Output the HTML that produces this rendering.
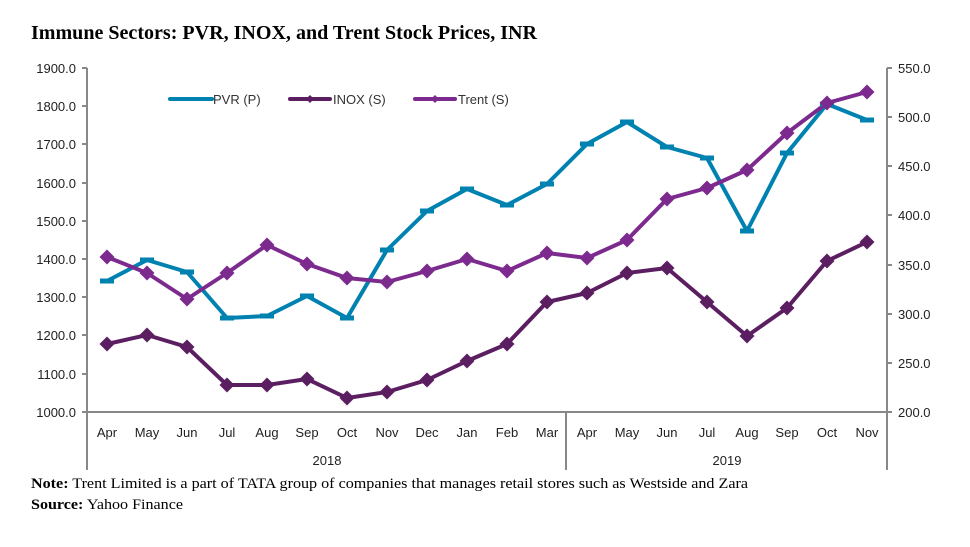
<!DOCTYPE html>
<html><head><meta charset="utf-8"><style>
html,body{margin:0;padding:0;background:#fff;}
svg{display:block;font-family:"Liberation Sans",Arial,sans-serif;}
.s{font-family:"Liberation Serif","Times New Roman",serif;}
</style></head><body>
<svg width="970" height="547" viewBox="0 0 970 547" xmlns="http://www.w3.org/2000/svg">
<defs>
<path id="dI" d="M0,-7.5 L7.5,0 L0,7.5 L-7.5,0Z" fill="#5b1f61"/>
<path id="dT" d="M0,-7.5 L7.5,0 L0,7.5 L-7.5,0Z" fill="#7d2a8e"/>
<rect id="dP" x="-7" y="-2.5" width="14" height="5" fill="#0082b1"/>
</defs>
<text x="31" y="39" class="s" font-size="20" font-weight="bold" fill="#000" textLength="506" lengthAdjust="spacingAndGlyphs">Immune Sectors: PVR, INOX, and Trent Stock Prices, INR</text>
<g stroke="#888" stroke-width="2" fill="none">
<line x1="87" y1="68" x2="87" y2="470"/>
<line x1="887" y1="68" x2="887" y2="470"/>
<line x1="566" y1="412" x2="566" y2="470"/>
<line x1="87" y1="412" x2="887" y2="412"/>
<path d="M82,68H87M82,106H87M82,144H87M82,183H87M82,221H87M82,259H87M82,297H87M82,335H87M82,374H87M82,412H87"/>
<path d="M887,68H892M887,117H892M887,166H892M887,215H892M887,265H892M887,314H892M887,363H892M887,412H892"/>
</g>
<g font-size="13" fill="#222" text-anchor="end">
<text x="76" y="73">1900.0</text><text x="76" y="111">1800.0</text><text x="76" y="149">1700.0</text><text x="76" y="188">1600.0</text><text x="76" y="226">1500.0</text><text x="76" y="264">1400.0</text><text x="76" y="302">1300.0</text><text x="76" y="340">1200.0</text><text x="76" y="379">1100.0</text><text x="76" y="417">1000.0</text>
</g>
<g font-size="13" fill="#222">
<text x="898" y="73">550.0</text><text x="898" y="122">500.0</text><text x="898" y="171">450.0</text><text x="898" y="220">400.0</text><text x="898" y="270">350.0</text><text x="898" y="319">300.0</text><text x="898" y="368">250.0</text><text x="898" y="417">200.0</text>
</g>
<g font-size="13" fill="#222" text-anchor="middle">
<text x="107" y="437">Apr</text><text x="147" y="437">May</text><text x="187" y="437">Jun</text><text x="227" y="437">Jul</text><text x="267" y="437">Aug</text><text x="307" y="437">Sep</text><text x="347" y="437">Oct</text><text x="387" y="437">Nov</text><text x="427" y="437">Dec</text><text x="467" y="437">Jan</text><text x="507" y="437">Feb</text><text x="547" y="437">Mar</text><text x="587" y="437">Apr</text><text x="627" y="437">May</text><text x="667" y="437">Jun</text><text x="707" y="437">Jul</text><text x="747" y="437">Aug</text><text x="787" y="437">Sep</text><text x="827" y="437">Oct</text><text x="867" y="437">Nov</text>
<text x="327" y="465">2018</text><text x="727" y="465">2019</text>
</g>
<polyline fill="none" stroke="#0082b1" stroke-width="4" stroke-linejoin="round" points="107,281 147,260 187,272 227,318 267,316 307,296 347,318 387,250 427,211 467,189 507,205 547,184 587,144 627,122 667,147 707,158 747,231 787,153 827,104 867,120"/>
<polyline fill="none" stroke="#5b1f61" stroke-width="4" stroke-linejoin="round" points="107,344 147,335 187,347 227,385 267,385 307,379 347,398 387,392 427,380 467,361 507,344 547,302 587,293 627,273 667,268 707,302 747,336 787,308 827,261 867,242"/>
<polyline fill="none" stroke="#7d2a8e" stroke-width="4" stroke-linejoin="round" points="107,257 147,273 187,299 227,273 267,245 307,264 347,278 387,282 427,271 467,259 507,271 547,253 587,258 627,240 667,199 707,188 747,170 787,133 827,103 867,92"/>
<g>
<use href="#dP" x="107" y="281"/><use href="#dP" x="147" y="260"/><use href="#dP" x="187" y="272"/><use href="#dP" x="227" y="318"/><use href="#dP" x="267" y="316"/><use href="#dP" x="307" y="296"/><use href="#dP" x="347" y="318"/><use href="#dP" x="387" y="250"/><use href="#dP" x="427" y="211"/><use href="#dP" x="467" y="189"/><use href="#dP" x="507" y="205"/><use href="#dP" x="547" y="184"/><use href="#dP" x="587" y="144"/><use href="#dP" x="627" y="122"/><use href="#dP" x="667" y="147"/><use href="#dP" x="707" y="158"/><use href="#dP" x="747" y="231"/><use href="#dP" x="787" y="153"/><use href="#dP" x="827" y="104"/><use href="#dP" x="867" y="120"/>
<use href="#dI" x="107" y="344"/><use href="#dI" x="147" y="335"/><use href="#dI" x="187" y="347"/><use href="#dI" x="227" y="385"/><use href="#dI" x="267" y="385"/><use href="#dI" x="307" y="379"/><use href="#dI" x="347" y="398"/><use href="#dI" x="387" y="392"/><use href="#dI" x="427" y="380"/><use href="#dI" x="467" y="361"/><use href="#dI" x="507" y="344"/><use href="#dI" x="547" y="302"/><use href="#dI" x="587" y="293"/><use href="#dI" x="627" y="273"/><use href="#dI" x="667" y="268"/><use href="#dI" x="707" y="302"/><use href="#dI" x="747" y="336"/><use href="#dI" x="787" y="308"/><use href="#dI" x="827" y="261"/><use href="#dI" x="867" y="242"/>
<use href="#dT" x="107" y="257"/><use href="#dT" x="147" y="273"/><use href="#dT" x="187" y="299"/><use href="#dT" x="227" y="273"/><use href="#dT" x="267" y="245"/><use href="#dT" x="307" y="264"/><use href="#dT" x="347" y="278"/><use href="#dT" x="387" y="282"/><use href="#dT" x="427" y="271"/><use href="#dT" x="467" y="259"/><use href="#dT" x="507" y="271"/><use href="#dT" x="547" y="253"/><use href="#dT" x="587" y="258"/><use href="#dT" x="627" y="240"/><use href="#dT" x="667" y="199"/><use href="#dT" x="707" y="188"/><use href="#dT" x="747" y="170"/><use href="#dT" x="787" y="133"/><use href="#dT" x="827" y="103"/><use href="#dT" x="867" y="92"/>
</g>
<g font-size="13" fill="#333">
<line x1="170" y1="99" x2="212" y2="99" stroke="#0082b1" stroke-width="4" stroke-linecap="round"/>
<text x="213" y="104">PVR (P)</text>
<line x1="290" y1="99" x2="330" y2="99" stroke="#5b1f61" stroke-width="4" stroke-linecap="round"/>
<path d="M310,95 L314,99 L310,103 L306,99Z" fill="#5b1f61"/>
<text x="333" y="104">INOX (S)</text>
<line x1="415" y1="99" x2="455" y2="99" stroke="#7d2a8e" stroke-width="4" stroke-linecap="round"/>
<path d="M435,95 L439,99 L435,103 L431,99Z" fill="#7d2a8e"/>
<text x="458" y="104">Trent (S)</text>
</g>
<text x="31" y="488" class="s" font-size="15" fill="#000" textLength="717" lengthAdjust="spacingAndGlyphs"><tspan font-weight="bold">Note:</tspan> Trent Limited is a part of TATA group of companies that manages retail stores such as Westside and Zara</text>
<text x="31" y="509" class="s" font-size="15" fill="#000" textLength="152" lengthAdjust="spacingAndGlyphs"><tspan font-weight="bold">Source:</tspan> Yahoo Finance</text>
</svg>
</body></html>
